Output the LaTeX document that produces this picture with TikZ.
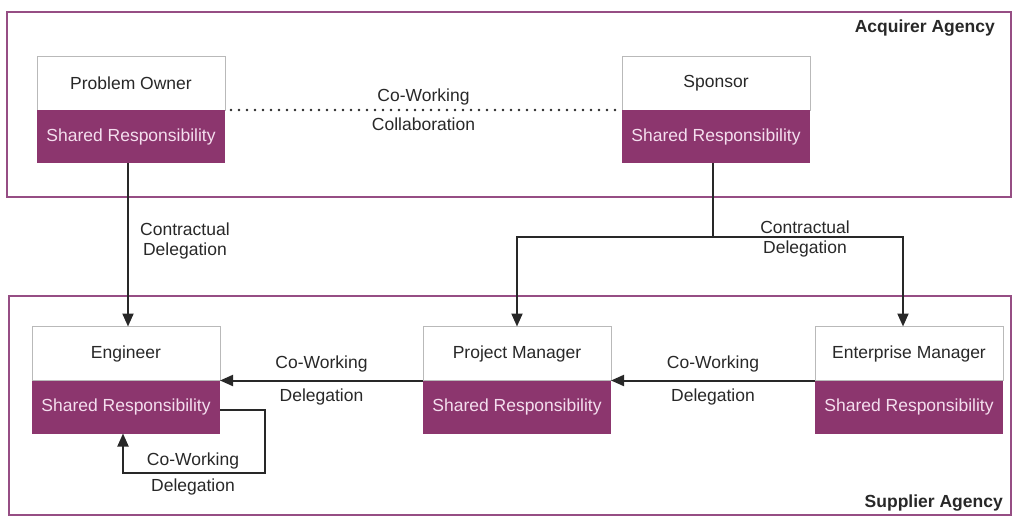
\documentclass[tikz,border=0pt]{standalone}
\usepackage{fontspec}
\setmainfont{Liberation Sans}
\usepackage{xcolor}
\usetikzlibrary{positioning,arrows.meta,calc}

\definecolor{plum}{RGB}{140,54,110}
\definecolor{framecol}{RGB}{150,78,132}
\definecolor{inkgray}{RGB}{40,40,40}
\definecolor{paletext}{RGB}{244,222,238}

\tikzset{
  rolebox/.style={draw=gray!55,line width=0.6pt,fill=white,minimum width=188pt,minimum height=54pt,
    inner sep=0pt,outer sep=0pt,text=inkgray},
  sharedbox/.style={fill=plum,minimum width=188pt,minimum height=53pt,inner sep=0pt,outer sep=0pt,
    text=paletext},
  agencyframe/.style={draw=framecol,line width=1.6pt},
  agencylabel/.style={font=\fontsize{17.5}{20}\selectfont\bfseries,text=inkgray,inner sep=0pt},
  link/.style={draw=inkgray,line width=2pt,-{Triangle[length=13pt,width=11pt]}},
  linklabel/.style={align=center,text=inkgray,inner sep=0pt},
}

\begin{document}
\begin{tikzpicture}[x=1pt,y=-1pt,font=\fontsize{17.5}{20}\selectfont]
  \useasboundingbox (0,0) rectangle (1013,517);

  % agency frames
  \draw[agencyframe] (7,12) rectangle (1011,197);
  \draw[agencyframe] (9,296) rectangle (1011,515);
  \node[agencylabel,anchor=north east] (acq) at (995,20) {Acquirer Agency};
  \node[agencylabel,anchor=north east] (sup) at (1003,495) {Supplier Agency};

  % acquirer roles
  \node[rolebox] (po) at (131,83) {Problem Owner};
  \node[sharedbox,below=0pt of po] (pos) {Shared Responsibility};
  \node[rolebox] (sp) at (716,83) {Sponsor};
  \node[sharedbox,below=0pt of sp] (sps) {Shared Responsibility};

  % supplier roles
  \node[rolebox] (eng) at (126,353.5) {Engineer};
  \node[sharedbox,below=0pt of eng] (engs) {Shared Responsibility};
  \node[rolebox] (pm) at (517,353.5) {Project Manager};
  \node[sharedbox,below=0pt of pm] (pms) {Shared Responsibility};
  \node[rolebox] (em) at (909,353.5) {Enterprise Manager};
  \node[sharedbox,below=0pt of em] (ems) {Shared Responsibility};

  % collaboration between owner and sponsor
  \draw[inkgray,line width=2.6pt,dash pattern=on 0pt off 8pt,line cap=round]
    ($(pos.north east)+(6,0)$) -- (sps.north west);
  \node[linklabel] (collab) at ($(pos.north east)!0.5!(sps.north west)$) {Co-Working\\[9pt]Collaboration};

  % contractual delegation
  \draw[link] ($(pos.south)+(-3,0)$) -- ($(eng.north)+(2,0)$);
  \node[linklabel,anchor=west] (contr1) at (140,241) {Contractual\\Delegation};
  \coordinate (fork) at ($(sps.south)+(-3,74)$);
  \draw[link] ($(sps.south)+(-3,0)$) -- (fork) -| (pm.north);
  \draw[link] (fork) -| ($(em.north)+(-6,0)$);
  \node[linklabel] (contr2) at (805,239) {Contractual\\Delegation};

  % co-working delegation
  \draw[link] (ems.north west) -- (pms.north east);
  \node[linklabel] (cw1) at ($(ems.north west)!0.5!(pms.north east)$) {Co-Working\\[13pt]Delegation};
  \draw[link] (pms.north west) -- (engs.north east);
  \node[linklabel] (cw2) at ($(pms.north west)!0.5!(engs.north east)$) {Co-Working\\[13pt]Delegation};
  \draw[link] ($(engs.east)+(0,3)$) -- ++(45,0) |- ($(engs.south)+(-3,39)$) -- ($(engs.south)+(-3,0)$);
  \node[linklabel] (cw3) at (193,474) {Co-Working\\[6pt]Delegation};
\end{tikzpicture}
\end{document}
